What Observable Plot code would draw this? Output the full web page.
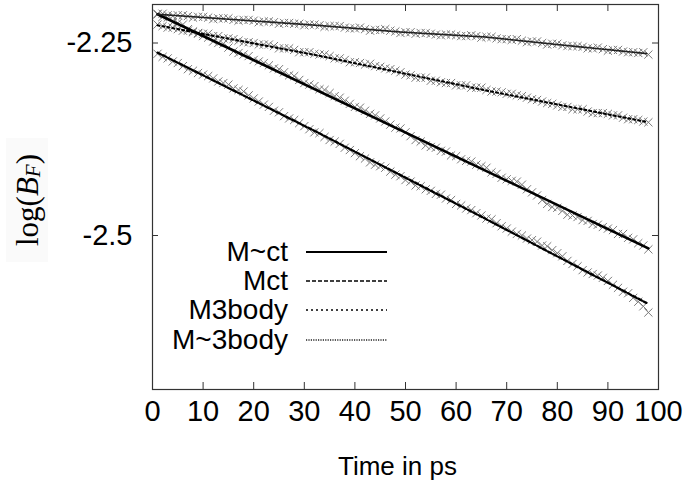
<!DOCTYPE html>
<html>
<head>
<meta charset="utf-8">
<script src="https://cdn.jsdelivr.net/npm/d3@7"></script>
<script src="https://cdn.jsdelivr.net/npm/@observablehq/plot@0.6"></script>
<style>
  html, body { margin: 0; padding: 0; background: #fff; }
  #wrap { position: relative; width: 689px; height: 487px; font-family: "Liberation Sans", Arial, Helvetica, sans-serif; }
  #legend { position: absolute; left: 150px; top: 237px; }
  #legend .row { display: flex; align-items: center; height: 29.3px; }
  #legend .lab { width: 138px; text-align: right; font-size: 28px; line-height: 28px; color: #000; }
  #legend svg { margin-left: 18px; }
</style>
</head>
<body>
<div id="wrap"></div>
<script>
// Time axis (ps): one sample per picosecond
const time = d3.range(1, 99);

// Sampled log(B_F) for each model
const mTildeCtPts = [
  -2.212,-2.216,-2.217,-2.223,-2.224,-2.226,-2.232,-2.236,-2.237,-2.241,
  -2.243,-2.248,-2.250,-2.251,-2.256,-2.261,-2.263,-2.265,-2.267,-2.272,
  -2.274,-2.276,-2.279,-2.283,-2.284,-2.288,-2.292,-2.293,-2.298,-2.302,
  -2.304,-2.306,-2.310,-2.311,-2.315,-2.319,-2.321,-2.325,-2.329,-2.333,
  -2.334,-2.338,-2.342,-2.344,-2.348,-2.352,-2.356,-2.360,-2.361,-2.366,
  -2.371,-2.376,-2.378,-2.383,-2.385,-2.386,-2.390,-2.391,-2.396,-2.397,
  -2.401,-2.403,-2.404,-2.408,-2.410,-2.412,-2.418,-2.420,-2.425,-2.427,
  -2.429,-2.430,-2.434,-2.440,-2.444,-2.448,-2.454,-2.459,-2.463,-2.464,
  -2.468,-2.473,-2.474,-2.476,-2.480,-2.481,-2.485,-2.486,-2.489,-2.491,
  -2.493,-2.498,-2.498,-2.503,-2.505,-2.510,-2.513,-2.518
];
const mCtPts = [
  -2.264,-2.268,-2.270,-2.274,-2.276,-2.280,-2.284,-2.286,-2.289,-2.291,
  -2.293,-2.296,-2.300,-2.302,-2.304,-2.309,-2.311,-2.313,-2.318,-2.322,
  -2.326,-2.330,-2.333,-2.338,-2.340,-2.345,-2.348,-2.350,-2.354,-2.358,
  -2.362,-2.366,-2.367,-2.372,-2.376,-2.378,-2.381,-2.386,-2.389,-2.393,
  -2.397,-2.400,-2.405,-2.408,-2.410,-2.412,-2.417,-2.421,-2.423,-2.428,
  -2.430,-2.435,-2.436,-2.440,-2.442,-2.446,-2.447,-2.452,-2.454,-2.459,
  -2.461,-2.465,-2.467,-2.471,-2.474,-2.478,-2.479,-2.484,-2.488,-2.491,
  -2.495,-2.498,-2.500,-2.504,-2.506,-2.508,-2.513,-2.514,-2.519,-2.523,
  -2.527,-2.533,-2.537,-2.540,-2.545,-2.548,-2.550,-2.552,-2.555,-2.559,
  -2.564,-2.568,-2.573,-2.575,-2.581,-2.586,-2.592,-2.600
];
const m3bodyPts = [
  -2.226,-2.228,-2.230,-2.230,-2.232,-2.234,-2.234,-2.235,-2.238,-2.238,
  -2.238,-2.241,-2.241,-2.244,-2.244,-2.245,-2.247,-2.249,-2.249,-2.250,
  -2.252,-2.252,-2.252,-2.254,-2.257,-2.257,-2.257,-2.259,-2.262,-2.262,
  -2.262,-2.264,-2.265,-2.265,-2.267,-2.270,-2.270,-2.272,-2.275,-2.275,
  -2.276,-2.278,-2.277,-2.280,-2.281,-2.283,-2.284,-2.286,-2.288,-2.291,
  -2.292,-2.295,-2.295,-2.295,-2.299,-2.299,-2.301,-2.302,-2.302,-2.305,
  -2.305,-2.305,-2.308,-2.308,-2.308,-2.311,-2.313,-2.313,-2.314,-2.316,
  -2.316,-2.318,-2.319,-2.321,-2.323,-2.324,-2.326,-2.328,-2.329,-2.331,
  -2.333,-2.333,-2.336,-2.336,-2.336,-2.339,-2.341,-2.341,-2.341,-2.342,
  -2.344,-2.344,-2.347,-2.349,-2.349,-2.350,-2.352,-2.353
];
const mTilde3bodyPts = [
  -2.213,-2.212,-2.214,-2.215,-2.214,-2.214,-2.215,-2.217,-2.216,-2.216,
  -2.217,-2.219,-2.218,-2.218,-2.218,-2.220,-2.221,-2.220,-2.220,-2.221,
  -2.223,-2.222,-2.222,-2.223,-2.225,-2.224,-2.224,-2.225,-2.225,-2.227,
  -2.226,-2.226,-2.227,-2.229,-2.228,-2.228,-2.228,-2.230,-2.231,-2.231,
  -2.230,-2.232,-2.234,-2.233,-2.233,-2.232,-2.234,-2.235,-2.237,-2.236,
  -2.236,-2.238,-2.237,-2.237,-2.238,-2.239,-2.240,-2.239,-2.239,-2.240,
  -2.241,-2.241,-2.240,-2.241,-2.243,-2.242,-2.242,-2.244,-2.245,-2.245,
  -2.246,-2.245,-2.247,-2.249,-2.248,-2.248,-2.250,-2.252,-2.251,-2.251,
  -2.253,-2.254,-2.254,-2.254,-2.255,-2.257,-2.257,-2.256,-2.258,-2.260,
  -2.259,-2.259,-2.261,-2.262,-2.262,-2.263,-2.262,-2.265
];

// Model curves (knots in ps and log(B_F))
const mTildeCtT = [1, 98];
const mTildeCtY = [-2.2127, -2.5167];
const mCtT = [1, 32.5, 65.8, 97.6];
const mCtY = [-2.2625, -2.3657, -2.4783, -2.5875];
const m3bodyT = [1, 32.5, 65.8, 97.8];
const m3bodyY = [-2.227, -2.266, -2.3115, -2.3527];
const mTilde3bodyT = [1, 32.5, 49, 65.8, 80, 97.8];
const mTilde3bodyY = [-2.2127, -2.227, -2.2357, -2.2422, -2.252, -2.2638];

const seriesNames = ["M~ct", "Mct", "M3body", "M~3body"];
const xTicks = [0, 10, 20, 30, 40, 50, 60, 70, 80, 90, 100];
const yTicks = [-2.25, -2.5];
const yTickLabels = ["-2.25", "-2.5"];

const styles = {
  "M~ct":    {stroke: "#000", strokeWidth: 2.6, dash: null},
  "Mct":     {stroke: "#000", strokeWidth: 2.3, dash: "4,2"},
  "M3body":  {stroke: "#000", strokeWidth: 2.1, dash: "2,3"},
  "M~3body": {stroke: "#222", strokeWidth: 1.7, dash: "1.2,1.2"}
};

const pts = [mTildeCtPts, mCtPts, m3bodyPts, mTilde3bodyPts];
const crosses = pts.flatMap((arr, k) => arr.map((v, i) => ({t: time[i], v, s: seriesNames[k]})));

const curveT = [mTildeCtT, mCtT, m3bodyT, mTilde3bodyT];
const curveY = [mTildeCtY, mCtY, m3bodyY, mTilde3bodyY];
const curves = seriesNames.map((s, k) => curveT[k].map((t, i) => ({t, v: curveY[k][i]})));

const blank = () => "";

const chart = Plot.plot({
  width: 689,
  height: 487,
  marginLeft: 152,
  marginRight: 31,
  marginTop: 4,
  marginBottom: 98,
  style: {fontFamily: "'Liberation Sans', Arial, Helvetica, sans-serif", fontSize: "29px", color: "#000", background: "#fff"},
  x: {domain: [0, 100]},
  y: {domain: [-2.7, -2.2]},
  marks: [
    Plot.dot(crosses, {x: "t", y: "v", symbol: "times", r: 3.8, stroke: "#7a7a7a", strokeWidth: 1}),
    ...curves.map((c, k) => {
      const st = styles[seriesNames[k]];
      return Plot.line(c, {x: "t", y: "v", stroke: st.stroke, strokeWidth: st.strokeWidth, strokeDasharray: st.dash});
    }),
    Plot.frame({stroke: "#333", strokeWidth: 1.2}),
    Plot.axisX({ticks: xTicks, tickSize: 0, tickPadding: 11, tickFormat: d => String(d), label: null}),
    Plot.axisX({ticks: xTicks, tickSize: -7, tickFormat: blank, label: null, stroke: "#333"}),
    Plot.axisX({anchor: "top", ticks: xTicks, tickSize: -6, tickFormat: blank, label: null, stroke: "#333"}),
    Plot.axisY({ticks: yTicks, tickSize: 0, tickPadding: 20, tickFormat: (d, i) => yTickLabels[i], label: null}),
    Plot.axisY({ticks: yTicks, tickSize: -6, tickFormat: blank, label: null, stroke: "#333"}),
    Plot.axisY({anchor: "right", ticks: yTicks, tickSize: -7, tickFormat: blank, label: null, stroke: "#333"}),
    Plot.text(["Time in ps"], {frameAnchor: "bottom", dx: -8, dy: 85, fontSize: 26, text: d => d})
  ]
});

// Serif axis title with italic B and subscript F
const svg = d3.select(chart);
const yTitle = svg.append("g").attr("transform", "translate(27,200) rotate(-90)");
yTitle.append("rect").attr("x", -62).attr("y", -21).attr("width", 124).attr("height", 42).attr("fill", "#fafafa");
const tt = yTitle.append("text")
  .attr("text-anchor", "middle").attr("dominant-baseline", "central")
  .attr("font-family", "'Liberation Serif', 'DejaVu Serif', serif").attr("font-size", 31).attr("fill", "#000");
tt.append("tspan").text("log(");
tt.append("tspan").attr("font-style", "italic").text("B");
tt.append("tspan").attr("font-style", "italic").attr("font-size", 21).attr("dy", 6).text("F");
tt.append("tspan").attr("dy", -6).text(")");

const wrap = document.getElementById("wrap");
wrap.appendChild(chart);

// Legend: label followed by a line sample in the series style
const legend = document.createElement("div");
legend.id = "legend";
for (const name of seriesNames) {
  const st = styles[name];
  const row = document.createElement("div");
  row.className = "row";
  const lab = document.createElement("span");
  lab.className = "lab";
  lab.textContent = name;
  row.appendChild(lab);
  const s = d3.create("svg").attr("width", 81).attr("height", 10);
  s.append("line").attr("x1", 0).attr("x2", 81).attr("y1", 5).attr("y2", 5)
    .attr("stroke", st.stroke).attr("stroke-width", name === "M~ct" ? 2 : 1.6)
    .attr("stroke-dasharray", st.dash);
  row.appendChild(s.node());
  legend.appendChild(row);
}
wrap.appendChild(legend);
</script>
</body>
</html>
